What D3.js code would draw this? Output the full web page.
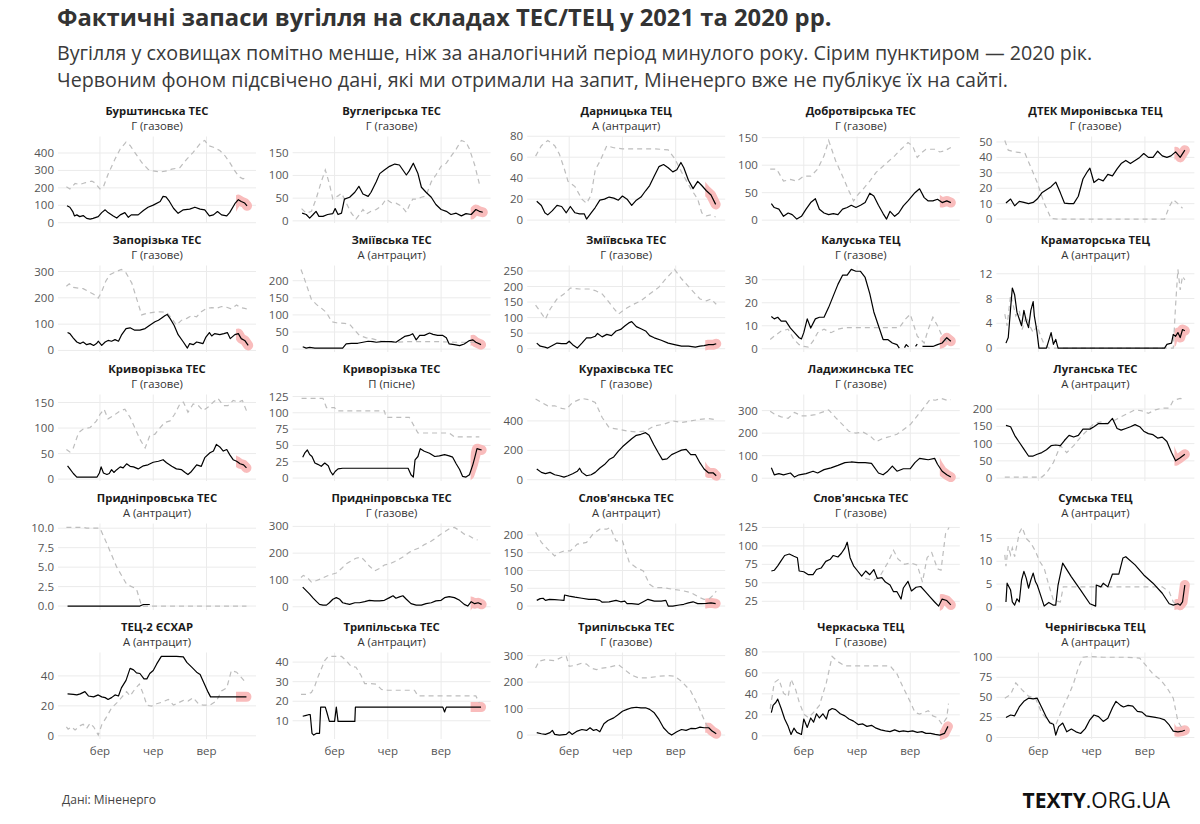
<!DOCTYPE html>
<html><head><meta charset="utf-8">
<script src="https://cdn.jsdelivr.net/npm/d3@7"></script>
<style>body{margin:0;background:#fff} text{font-family:"Open Sans",sans-serif}</style>
</head><body><svg id="chart" width="1200" height="824"></svg>
<script>
// ---- DATA: [day of year (0 = 1 Jan), stock, thousand t] ----
const burshtyn21=[[2,97],[7,89],[12,64],[15,39],[19,45],[24,35],[30,41],[36,25],[42,21],[47,25],[56,35],[62,58],[68,74],[73,58],[82,39],[88,27],[94,45],[102,58],[108,31],[113,45],[125,45],[134,70],[142,89],[151,101],[163,122],[168,151],[173,148],[179,122],[186,83],[194,54],[203,74],[214,78],[223,89],[232,78],[240,74],[248,39],[255,45],[262,64],[269,45],[278,39],[283,58],[292,109],[298,132],[303,122],[309,113],[313,97]];
const burshtyn20=[[1,206],[7,194],[16,225],[24,219],[33,229],[45,239],[50,229],[59,194],[65,206],[73,278],[85,365],[94,423],[104,462],[111,443],[119,404],[131,346],[142,307],[151,297],[163,291],[174,297],[183,307],[197,316],[209,365],[220,404],[234,462],[240,472],[246,443],[255,433],[266,414],[275,384],[283,346],[292,297],[299,264],[306,252],[312,258]];
const vuhlehirsk21=[[3,17],[10,14],[16,6],[22,14],[27,21],[32,10],[39,10],[47,14],[56,16],[60,27],[65,14],[71,17],[76,48],[85,52],[94,63],[101,76],[108,59],[117,54],[122,63],[131,86],[137,104],[145,112],[154,120],[163,125],[171,123],[177,112],[183,101],[188,110],[195,127],[203,104],[209,74],[217,63],[226,52],[234,36],[243,25],[252,21],[260,14],[269,17],[278,11],[286,16],[295,14],[303,25],[309,21],[315,19]];
const vuhlehirsk20=[[2,27],[10,17],[19,21],[27,48],[36,86],[43,112],[50,82],[56,48],[65,55],[71,61],[79,40],[88,17],[96,4],[102,14],[108,25],[114,15],[122,21],[131,25],[140,33],[148,48],[157,40],[165,39],[174,33],[183,19],[188,34],[194,48],[200,48],[209,52],[217,55],[226,86],[234,101],[243,120],[252,127],[260,142],[269,158],[278,177],[286,173],[292,158],[301,123],[309,82]];
const darnytsia21=[[3,18],[11,14],[17,7],[22,5],[30,9],[38,14],[46,13],[54,7],[61,13],[69,7],[77,6],[85,6],[89,1],[97,7],[104,12],[112,19],[120,20],[128,22],[136,21],[144,19],[151,23],[159,20],[167,14],[175,19],[183,22],[191,28],[198,33],[206,42],[214,51],[222,53],[230,50],[238,46],[245,48],[252,55],[257,50],[265,38],[273,30],[281,37],[288,33],[296,28],[304,24],[312,15]];
const darnytsia20=[[1,61],[11,71],[22,76],[34,71],[42,63],[50,50],[57,37],[69,32],[81,20],[89,16],[97,24],[104,48],[112,56],[124,71],[136,69],[151,68],[175,68],[206,68],[230,67],[241,59],[253,46],[269,30],[281,20],[288,7],[296,4],[304,5],[312,3]];
const dobrotvir21=[[3,30],[8,23],[16,20],[24,7],[32,13],[39,10],[47,2],[55,7],[63,20],[71,32],[79,39],[86,20],[94,13],[102,10],[110,12],[118,10],[126,20],[134,23],[141,27],[149,23],[157,27],[165,32],[173,49],[180,44],[188,27],[196,12],[202,2],[208,16],[216,7],[223,13],[231,26],[239,35],[251,50],[259,57],[267,41],[274,35],[282,35],[290,38],[298,32],[306,35],[313,32]];
const dobrotvir20=[[1,93],[12,93],[24,71],[36,74],[47,71],[59,80],[71,80],[83,93],[94,117],[102,145],[114,108],[126,80],[137,53],[145,35],[153,47],[161,56],[173,71],[184,87],[200,102],[216,117],[227,129],[239,141],[247,135],[255,114],[263,123],[270,129],[286,129],[294,124],[302,126],[313,132]];
const myronivka21=[[3,10.4],[11,13],[18,8.6],[26,11.5],[34,10.8],[42,10],[50,10.8],[57,13],[65,17],[73,19],[81,21],[89,24],[97,17],[104,10.4],[112,10],[120,10],[128,14.8],[136,26],[144,31],[148,33],[155,23.7],[163,26],[171,24.8],[179,29],[187,28],[195,32.5],[202,36],[210,38],[218,36],[226,38],[234,40],[241,42.5],[249,40],[257,40],[265,44],[273,41],[281,40],[288,41],[296,43.6],[304,40],[312,44.7]];
const myronivka20=[[1,51],[7,44.7],[18,43.6],[30,43],[36,42.5],[46,33.6],[57,23.7],[69,10.4],[81,0.4],[93,0],[277,0],[285,8],[292,12.6],[300,10],[308,7]];
const zaporizhzhia21=[[3,68],[7,64],[13,47],[19,32],[25,26],[30,32],[36,22],[42,26],[48,19],[53,26],[56,35],[62,19],[68,32],[73,38],[79,35],[85,41],[91,35],[96,58],[104,83],[111,86],[119,77],[128,77],[137,83],[145,96],[154,109],[160,115],[165,122],[171,132],[175,137],[180,122],[187,96],[194,60],[203,32],[210,9],[214,26],[220,22],[226,32],[232,29],[237,26],[242,51],[248,68],[252,55],[257,64],[266,60],[273,64],[279,68],[284,45],[292,60],[298,64],[303,45],[309,38],[315,19]];
const zaporizhzhia20=[[1,244],[6,253],[13,240],[22,237],[30,235],[39,224],[48,214],[56,199],[62,224],[69,263],[76,288],[88,301],[96,308],[104,295],[114,256],[122,199],[131,135],[140,141],[151,145],[163,147],[174,145],[183,122],[191,96],[200,115],[209,122],[217,132],[226,128],[234,147],[243,160],[252,163],[260,160],[269,167],[278,164],[286,158],[295,173],[301,163],[309,160],[315,156]];
const zmiivA21=[[4,7],[10,3],[16,5],[25,3],[73,3],[79,15],[88,17],[99,17],[108,20],[117,23],[125,22],[131,20],[140,22],[148,22],[157,22],[165,20],[174,30],[180,37],[188,40],[194,45],[200,27],[206,40],[214,40],[223,47],[229,43],[237,40],[246,40],[252,33],[257,15],[266,13],[275,10],[283,15],[292,25],[298,27],[303,20],[312,13]];
const zmiivA20=[[1,233],[5,215],[12,180],[19,145],[28,130],[36,120],[45,107],[54,80],[62,77],[76,75],[85,73],[94,55],[102,40],[114,33],[125,30],[140,23],[151,22],[163,20],[186,22],[237,22],[266,20],[309,20]];
const zmiivG21=[[3,18],[9,8],[17,5],[22,2],[30,10],[38,18],[46,16],[54,16],[59,24],[65,13],[73,2],[81,18],[89,35],[97,35],[104,40],[108,49],[116,38],[124,46],[132,42],[140,57],[148,62],[155,73],[163,84],[167,87],[175,71],[183,64],[191,57],[198,42],[206,35],[218,27],[230,18],[241,13],[253,8],[265,8],[277,5],[285,8],[292,10],[300,13],[308,13],[313,16]];
const zmiivG20=[[1,140],[8,122],[18,95],[26,127],[38,160],[50,176],[61,195],[77,192],[93,192],[104,187],[116,176],[128,149],[144,111],[155,127],[167,140],[183,154],[198,176],[214,198],[226,225],[241,255],[253,225],[269,192],[285,160],[296,154],[304,160],[313,143]];
const kalush21=[[3,14],[8,13],[14,13.7],[20,12],[28,12],[36,9],[43,7],[51,4.8],[55,4.3],[59,7],[65,13],[71,9],[79,13],[86,13.7],[94,13.7],[102,18],[110,23],[118,28],[126,32],[134,32],[141,34.5],[149,33.7],[157,33.7],[165,31],[173,24],[180,16],[188,10],[196,4],[204,4],[212,2.5],[220,1.8],[224,0.3],[228,null],[233,0.5],[236,1.8],[240,0.8],[244,null],[252,1],[255,2],[258,null],[264,1],[272,1],[282,1],[290,1.8],[298,2.5],[306,4.8],[313,3.3]];
const kalush20=[[1,4],[8,5.5],[20,7.7],[32,8.5],[42,4],[51,1.8],[59,1],[67,0.7],[75,3.3],[83,7],[94,8.5],[106,7],[118,8.5],[130,9.2],[145,9.2],[184,9.2],[224,9.2],[235,13],[243,15],[255,5.5],[267,2.5],[274,8.5],[282,13.7],[290,10],[298,5.5],[306,3.3],[311,2.5]];
const kramatorsk21=[[3,0.8],[7,1.7],[11,6.4],[14,9.7],[18,8.6],[22,5.8],[26,4.7],[30,3.6],[34,6.1],[38,4.4],[42,3.3],[46,6.1],[50,7.5],[52,5.2],[56,3],[60,0],[73,0],[81,2.5],[85,0.6],[89,1.4],[93,0],[277,0],[281,0.6],[289,0.8],[292,2.2],[296,1.9],[300,2.5],[304,1.7],[308,3],[312,2.8]];
const kramatorsk20=[[1,5.5],[5,3.6],[11,8.6],[14,7.5],[20,5.2],[26,6.1],[31,3],[38,5.2],[44,3.6],[50,2.5],[57,3.6],[63,1.9],[69,0.6],[77,0],[292,0],[296,6.9],[300,12.7],[304,9.4],[308,11.6],[312,11]];
const kryvyiG21=[[3,26],[7,20],[13,11],[19,4],[25,4],[36,4],[48,4],[54,4],[58,12],[61,24],[65,12],[71,9],[75,11],[79,18.5],[83,13],[88,18.5],[94,24],[99,22],[105,30],[111,25],[117,24],[125,20],[134,26],[142,28],[151,33],[160,35],[168,38],[174,32],[183,25],[191,20],[200,18.5],[206,13],[211,9],[217,15],[226,28],[234,25],[240,42],[249,51.5],[255,55],[260,68],[266,63],[272,55],[278,58],[283,48],[289,38],[295,35],[301,30],[307,28],[312,22]];
const kryvyiG20=[[1,58],[7,53],[13,61],[22,91],[30,98],[42,101],[53,114],[59,127],[66,137],[73,118],[82,124],[94,134],[102,137],[111,121],[119,101],[128,78],[137,61],[145,85],[154,88],[163,101],[171,111],[180,114],[188,127],[197,147],[203,151],[211,131],[220,147],[229,144],[237,134],[246,141],[255,151],[263,158],[272,144],[280,144],[289,154],[298,151],[305,154],[312,134]];
const kryvyiP21=[[4,32],[8,39],[12,43],[16,36],[20,33],[25,23],[30,21],[36,18],[42,23],[48,19],[52,10],[56,5],[60,10],[65,14],[73,15],[186,15],[191,5],[195,1.5],[198,28],[203,33],[207,45],[214,41],[223,38],[232,33],[240,34],[249,36],[257,34],[263,32],[269,22],[275,13],[280,2.6],[286,1.5],[292,5],[298,21],[301,31],[305,45],[309,44],[313,43]];
const kryvyiP20=[[2,122],[39,122],[45,108],[59,108],[62,103],[145,103],[148,93],[188,93],[203,69],[257,69],[266,63],[309,63]];
const kurakhove21=[[3,73],[11,50],[18,41],[26,50],[34,34],[42,27],[50,18],[57,27],[65,41],[73,57],[77,78],[81,50],[89,27],[97,34],[104,50],[112,80],[120,103],[128,137],[136,155],[144,194],[151,224],[159,251],[167,279],[175,302],[183,309],[191,320],[197,302],[205,240],[213,183],[220,137],[228,142],[236,171],[245,187],[253,201],[261,206],[269,171],[277,171],[285,114],[292,73],[300,46],[308,46],[313,27]];
const kurakhove20=[[1,549],[11,526],[22,503],[34,503],[46,485],[54,480],[65,526],[81,553],[93,544],[104,526],[116,423],[128,354],[144,343],[159,331],[175,325],[191,331],[206,366],[222,377],[238,400],[253,389],[269,400],[285,411],[300,416],[313,407]];
const ladyzhyn21=[[3,46],[8,15],[16,20],[24,15],[36,23],[43,5],[51,15],[63,20],[75,31],[83,23],[94,38],[106,46],[118,57],[130,69],[141,72],[153,69],[165,69],[176,66],[188,23],[196,15],[204,31],[212,54],[220,31],[231,42],[243,42],[251,69],[259,88],[267,85],[274,82],[285,88],[290,62],[298,31],[306,15],[313,5]];
const ladyzhyn20=[[1,297],[8,285],[20,272],[32,266],[43,292],[55,277],[67,277],[79,282],[90,292],[102,303],[114,269],[126,238],[137,208],[149,200],[161,205],[173,189],[184,162],[196,177],[208,185],[220,195],[231,215],[243,238],[255,277],[267,315],[277,349],[286,346],[296,354],[306,346],[313,349]];
const luhansk21=[[3,153],[11,149],[18,124],[26,104],[34,84],[42,64],[50,64],[57,69],[65,74],[73,82],[81,94],[89,96],[97,94],[104,109],[112,124],[120,119],[128,124],[136,142],[148,142],[155,149],[163,158],[171,158],[179,158],[187,173],[195,144],[202,139],[210,144],[218,149],[226,155],[234,149],[241,136],[249,129],[257,126],[265,116],[273,119],[281,106],[289,74],[296,50],[304,59],[312,69]];
const luhansk20=[[1,3],[65,3],[73,15],[85,45],[97,94],[108,74],[120,94],[132,119],[144,139],[155,158],[167,163],[179,158],[191,168],[202,178],[214,188],[226,198],[238,195],[249,188],[261,198],[273,203],[285,203],[292,225],[304,231],[312,228]];
const prydnA21=[[3,0],[128,0],[134,0.2],[145,0.2]];
const prydnA20=[[1,10.1],[30,10.1],[36,10],[59,10],[71,8],[88,5],[105,2.8],[122,2.2],[131,0],[312,0]];
const prydnG21=[[4,73],[10,60],[16,47],[22,32],[28,19],[33,9],[39,6],[45,6],[50,15],[56,28],[62,34],[68,28],[73,15],[79,11.5],[85,9],[94,15],[102,15],[111,19],[119,24],[128,22],[137,22],[145,24],[154,34],[160,41],[165,32],[171,37],[177,41],[183,28],[191,11.5],[200,6],[209,6],[217,11.5],[226,15],[234,22],[243,24],[249,34],[257,38],[266,34],[275,24],[283,9],[289,2.6],[295,19],[301,11.5],[307,15],[313,9]];
const prydnG20=[[1,109],[5,117],[12,109],[19,92],[28,98],[36,105],[45,114],[54,121],[62,126],[71,143],[79,160],[88,172],[96,181],[105,185],[111,172],[119,152],[128,134],[137,143],[145,156],[154,160],[163,169],[171,178],[180,190],[188,203],[197,213],[206,220],[214,232],[223,241],[232,254],[240,267],[249,280],[258,292],[266,296],[275,284],[283,271],[292,264],[299,254],[306,249]];
const slovA21=[[3,16],[9,21],[14,22],[18,16],[25,19],[34,18],[42,17],[50,16],[51,31],[59,28],[69,25],[81,22],[93,19],[104,19],[112,16],[116,11],[128,12],[140,16],[148,12],[155,14],[159,7],[167,7],[179,5],[187,12],[195,19],[206,14],[218,14],[226,16],[230,0],[238,0],[249,3],[257,5],[265,9],[273,12],[281,7],[288,7],[296,7.5],[304,9],[312,7]];
const slovA20=[[1,207],[11,179],[22,160],[34,141],[42,150],[50,155],[61,155],[73,174],[89,179],[100,202],[112,216],[124,216],[130,221],[140,183],[151,183],[163,122],[175,108],[187,99],[198,61],[206,52],[222,52],[238,47],[253,44],[269,38],[285,23.5],[292,19],[300,19],[308,31],[313,42]];
const slovG21=[[3,66],[8,67],[14,73],[20,80],[26,87],[34,89],[42,86],[48,84],[51,66],[59,65],[67,61],[75,61],[81,68],[89,70],[97,79],[105,82],[110,87],[118,85],[124,90],[130,97],[134,105],[139,84],[145,73],[152,66],[159,59],[166,66],[173,61],[180,68],[186,56],[194,57],[200,51],[208,47],[214,38],[220,38],[227,28],[231,43],[239,52],[245,39],[253,44],[261,45],[269,38],[277,31],[285,24],[292,18.5],[298,28],[306,26],[313,20]];
const slovG20=[[165,56],[180,53],[192,61],[204,77],[214,94],[222,82],[233,75],[243,77],[255,74],[264,51],[272,84],[280,91],[290,69],[296,67],[304,117],[310,125]];
const sumy21=[[3,1.1],[5,5.2],[11,3.7],[14,1.1],[18,0.4],[22,1.8],[26,1.1],[30,5.9],[34,7.8],[38,6.3],[42,4.1],[46,5.9],[50,7.4],[54,5.5],[57,4.8],[61,3.3],[69,0.2],[77,1],[85,0.4],[89,0.4],[93,4.8],[101,9.6],[116,6.6],[132,3.7],[148,0.7],[158,0.2],[159,4.8],[167,4.4],[171,5.2],[179,4.4],[187,7.2],[198,7.2],[205,10.7],[210,11],[226,9.2],[241,7],[257,5.2],[273,3],[285,0.7],[292,0.4],[300,0.7],[304,0.4],[308,1.1],[312,4.8]];
const sumy20=[[1,11.4],[3,8.9],[7,13.3],[11,11.4],[14,12.9],[18,11],[26,16.2],[31,17.4],[38,15],[46,14],[54,12.2],[61,10],[69,8.5],[77,4.8],[85,1.5],[97,1.1],[102,4.4],[132,4.4],[210,4.4],[273,4.4],[285,3.3],[292,1.1],[296,0.7]];
const eskhar21=[[3,28],[13,27.7],[19,27.3],[25,28],[33,29.5],[39,26.6],[48,26],[56,27.3],[62,26],[68,25.5],[73,24.3],[79,25.5],[85,27.3],[91,26.6],[96,32],[104,37],[111,45],[117,44],[122,42],[128,41.6],[135,38],[140,38],[145,41.6],[151,43.6],[157,48],[165,53],[174,53],[191,53],[203,52.7],[209,49],[217,46],[226,42.5],[232,41],[238,35.7],[246,29],[250,26],[312,26]];
const eskhar20=[[1,6],[4,4.5],[10,6],[16,3.9],[25,6.8],[30,7.7],[36,5],[42,8.4],[48,6],[56,0.5],[62,7.3],[71,13],[79,18.6],[88,22],[96,25.5],[105,29.5],[111,26.6],[119,31],[127,34.5],[134,27.7],[140,20.5],[148,19.8],[157,21.4],[168,22.7],[177,24.3],[186,20.5],[194,22],[203,23.6],[211,23.2],[220,25.5],[229,21.4],[237,20.5],[249,20.5],[260,23.2],[269,30],[278,32],[286,43.6],[295,42.5],[303,39],[312,35]];
const trypA21=[[4,12.3],[10,12.8],[14,13.1],[17,13.1],[20,3.6],[23,2.7],[28,3.6],[33,3.6],[35,17],[39,17],[43,17],[46,14],[50,9.7],[59,9.7],[62,17],[65,9.7],[71,9.7],[94,9.7],[95,17],[246,17],[249,14.5],[252,17],[312,17]];
const trypA20=[[1,23.5],[10,23.5],[19,24.4],[25,27.9],[30,32.2],[36,36.5],[42,40.8],[48,42.9],[62,42.9],[71,42.9],[79,40.8],[88,37.7],[96,37.4],[105,33],[111,29],[122,29],[131,28.7],[140,26],[151,25.6],[168,25.6],[197,25.6],[203,22.7],[237,22.7],[266,22.7],[303,22.7],[309,19.2]];
const trypG21=[[3,9],[11,5],[18,2.5],[26,9],[30,17.6],[34,2.5],[42,0],[54,2.5],[59,12.5],[64,2.5],[73,15],[81,21],[89,17.6],[95,27.6],[101,17.6],[106,21],[112,12.5],[119,42.7],[126,55],[136,65],[144,78],[151,90],[159,97],[167,103],[175,105],[183,103],[191,103],[198,97],[206,84],[214,59],[222,27.6],[230,9],[236,0],[245,12.5],[253,21],[261,17.6],[269,25],[277,24],[285,30],[292,27.6],[300,27.6],[306,15],[313,5]];
const trypG20=[[1,253],[7,279],[18,285],[34,281],[46,294],[54,297],[59,260],[69,263],[81,272],[89,268],[97,253],[106,247],[116,253],[128,256],[144,266],[155,247],[167,226],[179,216],[195,216],[214,222],[230,225],[241,222],[253,203],[269,166],[281,115],[288,78],[296,40],[304,15],[313,9]];
const cherkasy21=[[3,22],[6,29],[11,32],[14,35],[20,26],[26,16],[32,9],[37,1.3],[42,7.3],[47,3.3],[55,1.3],[59,16],[65,8],[71,17],[76,13],[81,21],[86,17],[92,21],[98,16],[102,24],[108,26],[114,25],[122,21],[130,19],[137,16],[145,14],[153,10.7],[161,11.3],[168,9],[176,10],[184,7.3],[192,5.7],[200,4.7],[208,4],[216,5.7],[224,4],[231,4.7],[239,4],[247,4.7],[255,3.3],[263,4],[270,2.3],[278,2.3],[286,1.3],[294,0.7],[302,2.3],[308,9]];
const cherkasy20=[[1,25.7],[8,50.7],[16,54],[24,40.7],[32,37.3],[37,54],[45,44],[51,32.3],[59,20.7],[67,17.3],[76,22.3],[86,29],[98,50.7],[108,75.7],[118,70.7],[130,66.7],[145,66.7],[176,66.7],[208,66.7],[220,59],[231,45.7],[243,32.3],[251,22.3],[259,20.7],[267,22.3],[274,24],[282,19],[290,17.3],[298,10.7],[306,17.3],[309,30.7]];
const chernihiv21=[[3,25],[11,28],[18,27],[26,38],[34,45],[42,49],[50,48],[57,49],[65,37],[73,25],[79,18],[85,16.5],[89,3],[94,13.5],[101,18],[108,7],[116,10.5],[124,7],[132,5],[140,11],[148,22],[155,28],[163,26],[171,20],[179,24],[187,37],[193,45],[201,40],[206,38],[214,40],[222,39],[230,32.5],[238,31.6],[245,27],[253,26],[261,25],[269,24],[277,22],[285,15.6],[292,8],[300,7],[308,8],[312,9]];
const chernihiv20=[[1,49],[11,53.6],[20,68],[30,60],[42,51.5],[54,49],[65,30],[77,20],[89,15.6],[101,37],[112,53.6],[120,68],[128,87],[136,100],[148,101],[171,100],[210,100],[234,99],[245,89.5],[257,79],[269,72.6],[281,62],[292,49],[300,20],[308,11]];

const stations=["Бурштинська ТЕС","Вуглегірська ТЕС","Дарницька ТЕЦ","Добротвірська ТЕС","ДТЕК Миронівська ТЕЦ","Запорізька ТЕС","Зміївська ТЕС","Зміївська ТЕС","Калуська ТЕЦ","Краматорська ТЕЦ","Криворізька ТЕС","Криворізька ТЕС","Курахівська ТЕС","Ладижинська ТЕС","Луганська ТЕС","Придніпровська ТЕС","Придніпровська ТЕС","Слов'янська ТЕС","Слов'янська ТЕС","Сумська ТЕЦ","ТЕЦ-2 ЄСХАР","Трипільська ТЕС","Трипільська ТЕС","Черкаська ТЕЦ","Чернігівська ТЕЦ"];
const G="Г (газове)", A="А (антрацит)", P="П (пісне)";
const fuels=[G,G,A,G,G,G,A,G,G,A,G,P,G,G,A,A,G,A,G,A,A,A,G,G,A];
const series2021=[burshtyn21,vuhlehirsk21,darnytsia21,dobrotvir21,myronivka21,zaporizhzhia21,zmiivA21,zmiivG21,kalush21,kramatorsk21,kryvyiG21,kryvyiP21,kurakhove21,ladyzhyn21,luhansk21,prydnA21,prydnG21,slovA21,slovG21,sumy21,eskhar21,trypA21,trypG21,cherkasy21,chernihiv21];
const series2020=[burshtyn20,vuhlehirsk20,darnytsia20,dobrotvir20,myronivka20,zaporizhzhia20,zmiivA20,zmiivG20,kalush20,kramatorsk20,kryvyiG20,kryvyiP20,kurakhove20,ladyzhyn20,luhansk20,prydnA20,prydnG20,slovA20,slovG20,sumy20,eskhar20,trypA20,trypG20,cherkasy20,chernihiv20];
const yTickLabels=[["0","100","200","300","400"],["0","50","100","150"],["0","20","40","60","80"],["0","50","100","150"],["0","10","20","30","40","50"],
["0","100","200","300"],["0","50","100","150","200"],["0","50","100","150","200","250"],["0","10","20","30"],["0","4","8","12"],
["0","50","100","150"],["0","25","50","75","100","125"],["0","200","400"],["0","100","200","300"],["0","50","100","150","200"],
["0.0","2.5","5.0","7.5","10.0"],["0","100","200","300"],["0","50","100","150","200"],["25","50","75","100","125"],["0","5","10","15"],
["0","20","40"],["10","20","30","40"],["0","100","200","300"],["0","20","40","60","80"],["0","25","50","75","100"]];
const monthTicks=["2021-03-01","2021-06-01","2021-09-01"];
const monthLabels=["бер","чер","вер"];
const requestedFrom=294; // day from which data was obtained on request

// ---- DRAW ----
const svg=d3.select("#chart");
svg.append("rect").attr("width",1200).attr("height",824).attr("fill","#fff");
svg.append("text").attr("x",57).attr("y",26).attr("font-size",23.8).attr("font-weight",700).attr("fill","#333")
  .text("Фактичні запаси вугілля на складах ТЕС/ТЕЦ у 2021 та 2020 рр.");
svg.append("text").attr("x",57).attr("y",59.5).attr("font-size",19.7).attr("fill","#3a3a3a")
  .text("Вугілля у сховищах помітно менше, ніж за аналогічний період минулого року. Сірим пунктиром — 2020 рік.");
svg.append("text").attr("x",57).attr("y",86.5).attr("font-size",19.7).attr("fill","#3a3a3a")
  .text("Червоним фоном підсвічено дані, які ми отримали на запит, Міненерго вже не публікує їх на сайті.");

const base=new Date(2021,0,1);
const toDate=d=>new Date(base.getTime()+d*864e5);
const PW=198, PH=86.5;
const colLeft=c=>58+234.6*c, rowTop=r=>136.5+129*r;
const x=d3.scaleTime().domain([toDate(-13.5),toDate(328.5)]).range([0,PW]);
const parse=d3.timeParse("%Y-%m-%d");

stations.forEach((name,i)=>{
  const c=i%5, r=Math.floor(i/5);
  const g=svg.append("g").attr("transform",`translate(${colLeft(c)},${rowTop(r)})`);
  const s21=series2021[i], s20=series2020[i];
  const vals=s21.concat(s20).map(d=>d[1]).filter(v=>v!=null);
  const mn=d3.min(vals), mx=d3.max(vals), pad=(mx-mn)*0.05;
  const y=d3.scaleLinear().domain([mn-pad,mx+pad]).range([PH,0]);
  // strip
  g.append("text").attr("x",PW/2).attr("y",-21.5).attr("text-anchor","middle").attr("font-size",11.3).attr("font-weight",700).attr("fill","#1a1a1a").text(name);
  g.append("text").attr("x",PW/2).attr("y",-7).attr("text-anchor","middle").attr("font-size",11.3).attr("fill","#333").text(fuels[i]);
  // grid
  const ticks=yTickLabels[i];
  g.selectAll(".hg").data(ticks).join("line").attr("x1",0).attr("x2",PW)
    .attr("y1",t=>y(+t)).attr("y2",t=>y(+t)).attr("stroke","#ebebeb").attr("stroke-width",1);
  g.selectAll(".vg").data(monthTicks).join("line").attr("y1",0).attr("y2",PH)
    .attr("x1",t=>x(parse(t))).attr("x2",t=>x(parse(t))).attr("stroke","#ebebeb").attr("stroke-width",1);
  g.selectAll(".yl").data(ticks).join("text").attr("x",-4).attr("y",t=>y(+t)).attr("dy","0.35em")
    .attr("text-anchor","end").attr("font-size",11.5).attr("fill","#555").text(t=>t);
  if(r===4){
    g.selectAll(".xl").data(monthTicks).join("text").attr("x",t=>x(parse(t))).attr("y",PH+16)
      .attr("text-anchor","middle").attr("font-size",11.5).attr("fill","#555").text((t,k)=>monthLabels[k]);
  }
  const line=d3.line().defined(d=>d[1]!=null).x(d=>x(toDate(d[0]))).y(d=>y(d[1]));
  // highlight (requested data)
  const cid="clip"+i;
  g.append("clipPath").attr("id",cid).append("rect").attr("x",x(toDate(requestedFrom))).attr("y",-10).attr("width",PW).attr("height",PH+20);
  g.append("path").attr("d",line(s21)).attr("fill","none").attr("stroke","#f9bcbc").attr("stroke-width",10)
    .attr("stroke-linejoin","round").attr("stroke-linecap","round").attr("clip-path",`url(#${cid})`);
  g.append("path").attr("d",line(s20)).attr("fill","none").attr("stroke","#bdbdbd").attr("stroke-width",1.2).attr("stroke-dasharray","5,4");
  g.append("path").attr("d",line(s21)).attr("fill","none").attr("stroke","#000").attr("stroke-width",1.2).attr("stroke-linejoin","round");
});

svg.append("text").attr("x",62).attr("y",804).attr("font-size",12).attr("fill","#444").text("Дані: Міненерго");
const logo=svg.append("text").attr("x",1170).attr("y",808).attr("text-anchor","end").attr("font-size",21).attr("fill","#111");
logo.append("tspan").attr("font-weight",700).text("TEXTY");
logo.append("tspan").text(".ORG.UA");
</script></body></html>
